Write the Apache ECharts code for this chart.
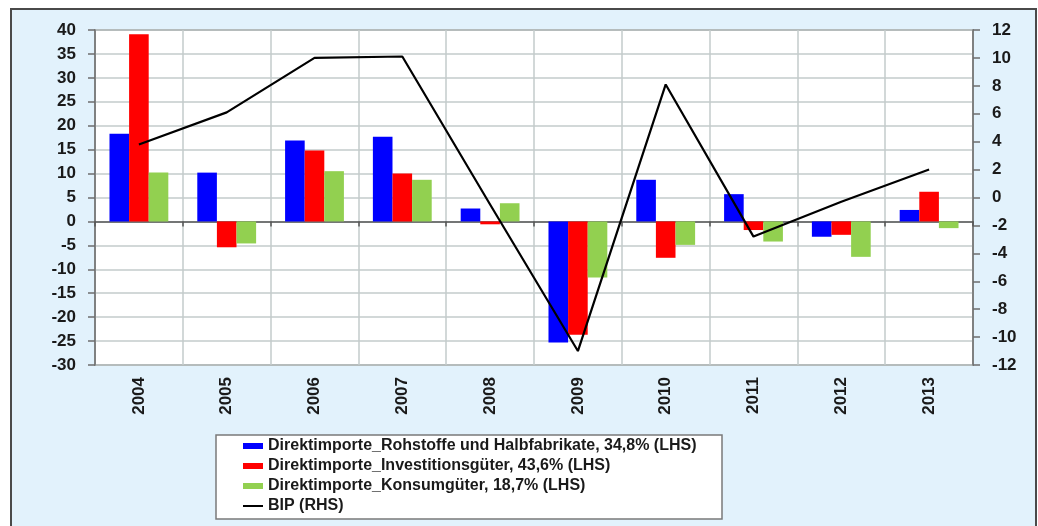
<!DOCTYPE html>
<html>
<head>
<meta charset="utf-8">
<script src="https://cdn.jsdelivr.net/npm/echarts@6/dist/echarts.min.js"></script>
<style>
html,body{margin:0;padding:0;background:#fff;}
#chart{width:1038px;height:526px;}
</style>
</head>
<body>
<div id="chart"></div>
<script>
var years = ['2004','2005','2006','2007','2008','2009','2010','2011','2012','2013'];
var rohstoffe = [18.3, 10.2, 16.9, 17.7, 2.7, -25.3, 8.7, 5.7, -3.2, 2.4];
var investition = [39.1, -5.4, 14.8, 10.0, -0.6, -23.7, -7.6, -1.8, -2.8, 6.2];
var konsum = [10.2, -4.6, 10.5, 8.7, 3.8, -11.7, -4.9, -4.2, -7.4, -1.4];
var bip = [3.8, 6.1, 10.0, 10.1, -0.5, -11.0, 8.1, -2.8, -0.3, 2.0];
var seriesNames = [
  'Direktimporte_Rohstoffe und Halbfabrikate, 34,8% (LHS)',
  'Direktimporte_Investitionsgüter, 43,6% (LHS)',
  'Direktimporte_Konsumgüter, 18,7% (LHS)',
  'BIP (RHS)'
];

var FONT = "'Liberation Sans', Arial, sans-serif";
var chart = echarts.init(document.getElementById('chart'), null, {renderer:'canvas'});
var labelStyle = {fontFamily: FONT, fontWeight: 'bold', fontSize: 17, color: '#1a1a1a'};
var legendText = {fontFamily:FONT, fontWeight:'bold', fontSize:16, color:'#1a1a1a', lineHeight:18};

chart.setOption({
  animation: false,
  backgroundColor: '#ffffff',
  graphic: [
    {type:'rect', z:-5, shape:{x:11, y:9, width:1025, height:540},
     style:{fill:'#e2f2fc', stroke:'#4a4a4a', lineWidth:2}},
    {type:'rect', z:1, shape:{x:216, y:435, width:506, height:84},
     style:{fill:'#ffffff', stroke:'#7a7a7a', lineWidth:1.5}}
  ],
  grid: {left:95, top:30, right:65, bottom:161, show:true, backgroundColor:'#ffffff',
         borderColor:'#6e6e6e', borderWidth:1.5, containLabel:false},
  legend: [
    {data: seriesNames.slice(0,3), orient:'vertical', left:243, top:437, padding:0,
     itemWidth:20, itemHeight:6, itemGap:2, icon:'rect', textStyle: legendText},
    {data: [seriesNames[3]], orient:'vertical', left:243, top:497, padding:0,
     itemWidth:20, itemHeight:2, icon:'rect', textStyle: legendText}
  ],
  xAxis: [
    {type:'category', data: years, position:'bottom', boundaryGap:true,
     axisLine:{show:false, onZero:false}, axisTick:{show:false},
     axisLabel: Object.assign({rotate:90, margin:12}, labelStyle),
     splitLine:{show:true, lineStyle:{color:'#c3cbcb', width:1.5}}},
    {type:'category', data: years, position:'bottom', boundaryGap:true,
     axisLine:{show:true, onZero:true, onZeroAxisIndex:0, lineStyle:{color:'#555', width:1.5}},
     axisTick:{show:true, length:5, lineStyle:{color:'#555', width:1.5}},
     axisLabel:{show:false}, splitLine:{show:false}}
  ],
  yAxis: [
    {type:'value', position:'left', min:-30, max:40, interval:5,
     axisLine:{show:true, lineStyle:{color:'#6e6e6e', width:1.5}},
     axisTick:{show:true, length:7, lineStyle:{color:'#6e6e6e', width:1.5}},
     axisLabel: Object.assign({margin:19}, labelStyle),
     splitLine:{show:true, lineStyle:{color:'#c3cbcb', width:1.5}}},
    {type:'value', position:'right', min:-12, max:12, interval:2,
     axisLine:{show:true, lineStyle:{color:'#6e6e6e', width:1.5}},
     axisTick:{show:true, length:7, lineStyle:{color:'#6e6e6e', width:1.5}},
     axisLabel: Object.assign({margin:19}, labelStyle),
     splitLine:{show:false}}
  ],
  series: [
    {name: seriesNames[0], type:'bar', data: rohstoffe, xAxisIndex:0, yAxisIndex:0,
     itemStyle:{color:'#0000ff'}, barGap:'0%', barCategoryGap:'33%'},
    {name: seriesNames[1], type:'bar', data: investition, xAxisIndex:0, yAxisIndex:0,
     itemStyle:{color:'#ff0000'}, barGap:'0%', barCategoryGap:'33%'},
    {name: seriesNames[2], type:'bar', data: konsum, xAxisIndex:0, yAxisIndex:0,
     itemStyle:{color:'#92d050'}, barGap:'0%', barCategoryGap:'33%'},
    {name: seriesNames[3], type:'line', data: bip, xAxisIndex:0, yAxisIndex:1, z:5,
     symbol:'none', itemStyle:{color:'#000000'}, lineStyle:{color:'#000000', width:2.2}}
  ]
});
</script>
</body>
</html>
